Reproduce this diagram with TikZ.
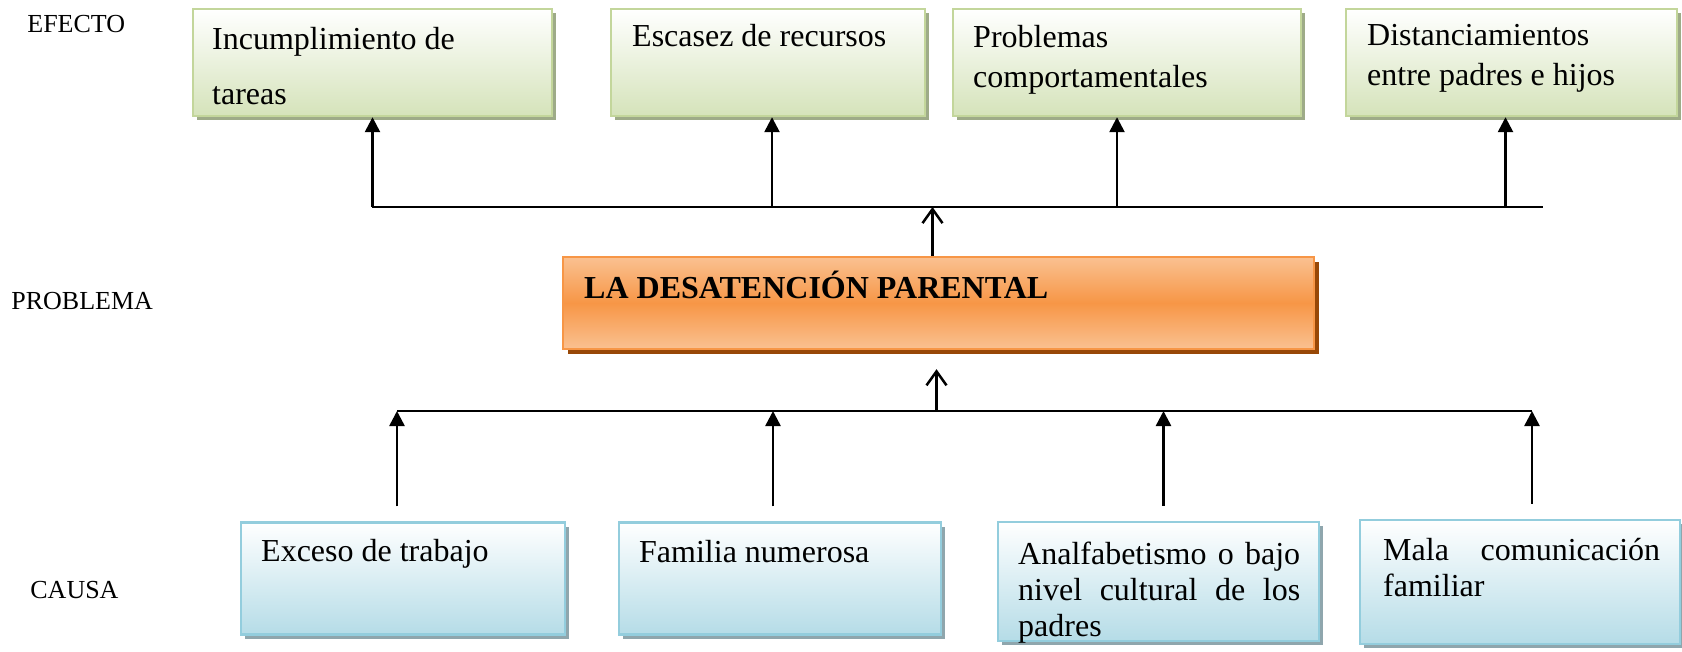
\documentclass[tikz,border=0pt]{standalone}
\usepackage{fontspec}
\setmainfont{Liberation Serif}
\usetikzlibrary{arrows.meta,shadows,positioning}

\definecolor{efectoborde}{HTML}{C3D69B}
\definecolor{efectofondo}{HTML}{D5E3BA}
\definecolor{efectosombra}{HTML}{9EAB88}
\definecolor{causaborde}{HTML}{93CDDD}
\definecolor{causafondo}{HTML}{B5DCE7}
\definecolor{causasombra}{HTML}{8FA6AD}
\definecolor{problemaborde}{HTML}{F79646}
\definecolor{problemaclaro}{HTML}{FAC191}
\definecolor{problemasombra}{HTML}{984807}

\begin{document}
\begin{tikzpicture}[x=0.5pt, y=-0.5pt,
  efecto/.style={rectangle, draw=efectoborde, line width=1.2pt, top color=white, bottom color=efectofondo, minimum height=53.5pt, inner sep=0pt, drop shadow={shadow xshift=2pt, shadow yshift=-2pt, fill=efectosombra, opacity=1}},
  causa/.style={rectangle, draw=causaborde, line width=1.2pt, top color=white, bottom color=causafondo, inner sep=0pt, drop shadow={shadow xshift=2pt, shadow yshift=-2pt, fill=causasombra, opacity=1}},
  problemabox/.style={rectangle, draw=problemaborde, line width=1.2pt, top color=problemaclaro, bottom color=problemaclaro, middle color=problemaborde, inner sep=0pt, drop shadow={shadow xshift=2.5pt, shadow yshift=-2.5pt, fill=problemasombra, opacity=1}},
  texto/.style={anchor=north west, inner sep=0pt, align=left, font=\fontsize{16}{20}\selectfont},
  etiqueta/.style={anchor=west, inner sep=0pt, font=\fontsize{13}{15}\selectfont},
  linea/.style={line width=1pt},
  flecha/.style={-{Triangle[length=7.5pt,width=7.5pt]}, line width=1.25pt},
  flechaabierta/.style={-{Straight Barb[length=7pt,width=10pt]}, line width=1.25pt}]
\useasboundingbox (0,0) rectangle (1682,652);

% etiquetas
\node[etiqueta] (lefecto) at (27,24) {EFECTO};
\node[etiqueta] (lproblema) at (11,301) {PROBLEMA};
\node[etiqueta] (lcausa) at (30,590) {CAUSA};

% efectos
\node[efecto, minimum width=179.5pt] (e1) at (372.5,62.5) {};
\node[efecto, minimum width=157pt] (e2) at (768,62.5) {};
\node[efecto, minimum width=174pt] (e3) at (1127,62.5) {};
\node[efecto, minimum width=165.5pt] (e4) at (1511.5,62.5) {};
\node[texto, font=\fontsize{16}{27.5}\selectfont] (e1t) at ([xshift=10pt,yshift=-9.5pt]e1.north west) {Incumplimiento de\\tareas};
\node[texto] (e2t) at ([xshift=11pt,yshift=-8pt]e2.north west) {Escasez de recursos};
\node[texto] (e3t) at ([xshift=10.5pt,yshift=-8.5pt]e3.north west) {Problemas\\comportamentales};
\node[texto] (e4t) at ([xshift=11pt,yshift=-8pt]e4.north west) {Distanciamientos\\entre padres e hijos};

% problema
\node[problemabox, minimum width=375.5pt, minimum height=46pt] (problema) at (938.5,303) {};
\node[anchor=base west, inner sep=0pt, font=\fontsize{16}{20}\selectfont\bfseries] (problemat) at ([xshift=11pt,yshift=-21.5pt]problema.north west) {LA DESATENCIÓN PARENTAL};

% causas
\node[causa, minimum width=162pt, minimum height=56pt] (c1) at (403,578.5) {};
\node[causa, minimum width=161pt, minimum height=56pt] (c2) at (780,578.5) {};
\node[causa, minimum width=160.5pt, minimum height=59.5pt] (c3) at (1158.5,581.5) {};
\node[causa, minimum width=160pt, minimum height=62pt] (c4) at (1520,582) {};
\node[texto] (c1t) at ([xshift=10.5pt,yshift=-9pt]c1.north west) {Exceso de trabajo};
\node[texto] (c2t) at ([xshift=10.5pt,yshift=-9.5pt]c2.north west) {Familia numerosa};
\node[texto, text width=141pt, align=justify, font=\fontsize{16}{18}\selectfont] (c3t) at ([xshift=10.5pt,yshift=-10.5pt]c3.north west) {Analfabetismo o bajo\linebreak nivel cultural de los\linebreak padres};
\node[texto, text width=138.5pt, align=justify, font=\fontsize{16}{18}\selectfont] (c4t) at ([xshift=12pt,yshift=-9.5pt]c4.north west) {Mala comunicación\linebreak familiar};

% barras y flechas de efectos
\coordinate (barraE) at (938.5,207);
\coordinate (barraEizq) at (372,207);
\coordinate (barraEder) at (1543,207);
\draw[linea] (barraEizq) -- (barraEder);
\foreach \n/\dx in {e1/0pt,e2/2pt,e3/-5pt,e4/-3pt}
  \draw[flecha] ([xshift=\dx]\n.south |- barraE) -- ([xshift=\dx]\n.south);
\draw[flechaabierta] ([xshift=-3pt]problema.north) -- ([xshift=-3pt]problema.north |- barraE);

% barras y flechas de causas
\coordinate (barraC) at (938.5,411);
\draw[linea] ([xshift=-3pt]c1.north |- barraC) -- ([xshift=6pt]c4.north |- barraC);
\foreach \n/\dx in {c1/-3pt,c2/-3.5pt,c3/2.5pt,c4/6pt}
  \draw[flecha] ([xshift=\dx,yshift=7.5pt]\n.north) -- ([xshift=\dx]\n.north |- barraC);
\draw[flechaabierta] ([xshift=-1pt]problema.south |- barraC) -- ([xshift=-1pt,yshift=-9.5pt]problema.south);
\end{tikzpicture}
\end{document}
